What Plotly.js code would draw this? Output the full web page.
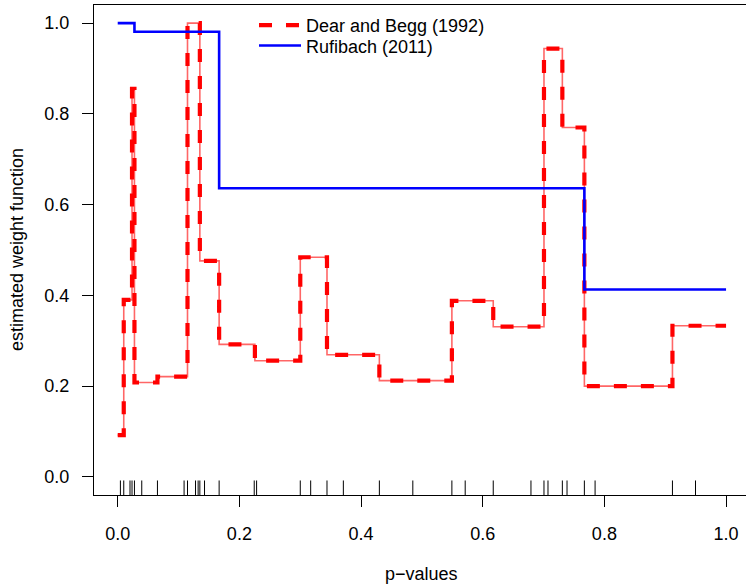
<!DOCTYPE html>
<html>
<head>
<meta charset="utf-8">
<script src="https://cdn.plot.ly/plotly-3.0.1.min.js"></script>
<style>html,body{margin:0;padding:0;background:#fff;}#chart{width:746px;height:584px;}</style>
</head>
<body>
<div id="chart"></div>
<script>
// observed p-values (rug)
var pValues = [0.0044, 0.0099, 0.0202, 0.0235, 0.0275, 0.0395, 0.0653, 0.1091, 0.1147, 0.1279,
  0.1322, 0.1350, 0.1427, 0.1667, 0.2244, 0.2283, 0.3001, 0.3172, 0.3440, 0.3709,
  0.4301, 0.4851, 0.5493, 0.5712, 0.6173, 0.6793, 0.7007, 0.7073, 0.7309, 0.7386,
  0.7671, 0.7847, 0.9119, 0.9498];

// Dear and Begg (1992) step function
var dbX = [0, 0.0099, 0.0235, 0.0275, 0.0653, 0.1147, 0.1350, 0.1667, 0.2255, 0.3001,
  0.3440, 0.4301, 0.5493, 0.6173, 0.7007, 0.7309, 0.7671, 0.9119, 1.0];
var dbY = [0.092, 0.390, 0.855, 0.208, 0.221, 1.000, 0.476, 0.292, 0.256, 0.484,
  0.269, 0.212, 0.388, 0.331, 0.944, 0.770, 0.200, 0.333, 0.333];

// Rufibach (2011) step function
var rufX = [0, 0.0275, 0.1667, 0.7671, 1.0];
var rufY = [1.000, 0.981, 0.636, 0.413, 0.413];

var xTicks = [0, 0.2, 0.4, 0.6, 0.8, 1.0];
var yTicks = [0, 0.2, 0.4, 0.6, 0.8, 1.0];
var seriesNames = ["Dear and Begg (1992)", "Rufibach (2011)"];
var xLabel = "p\u2212values";
var yLabel = "estimated weight function";

var yMin = -0.04, yMax = 1.04;
var rugLen = 0.032;

var rugX = [], rugY = [];
pValues.forEach(function (p) {
  rugX.push(p, p, null);
  rugY.push(yMin, yMin + rugLen, null);
});

var FONT = "Liberation Sans, Arial, Helvetica, sans-serif";

var traces = [
  {x: rugX, y: rugY, mode: "lines", line: {color: "#000", width: 1}, showlegend: false, hoverinfo: "skip"},
  {x: dbX, y: dbY, mode: "lines", line: {shape: "hv", color: "rgba(255,0,0,0.6)", width: 1.6}, showlegend: false},
  {x: dbX, y: dbY, mode: "lines", name: seriesNames[0], legend: "legend", line: {shape: "hv", color: "#ff0000", width: 4.2, dash: "13px,14px"}},
  {x: rufX, y: rufY, mode: "lines", name: seriesNames[1], legend: "legend2", line: {shape: "hv", color: "#0000ff", width: 2.6}}
];

var legendBase = {xanchor: "left", yanchor: "top", bgcolor: "rgba(0,0,0,0)", font: {size: 18}, itemwidth: 42, borderwidth: 0};

var layout = {
  width: 746, height: 584,
  margin: {l: 94, r: 0, t: 5, b: 89, pad: 0},
  paper_bgcolor: "#fff", plot_bgcolor: "#fff",
  font: {family: FONT, size: 18, color: "#000"},
  showlegend: true,
  legend: Object.assign({x: 0.2454, y: 0.9960}, legendBase),
  legend2: Object.assign({x: 0.2454, y: 0.9545}, legendBase),
  xaxis: {
    range: [-0.039, 1.0328], tickvals: xTicks, tickformat: ".1f",
    ticks: "outside", ticklen: 11, tickwidth: 1, tickcolor: "#000",
    showline: true, linecolor: "#000", linewidth: 1, mirror: true,
    showgrid: false, zeroline: false, ticklabelstandoff: 11
  },
  yaxis: {
    range: [yMin, yMax], tickvals: yTicks, tickformat: ".1f",
    ticks: "outside", ticklen: 11, tickwidth: 1, tickcolor: "#000",
    showline: true, linecolor: "#000", linewidth: 1,
    showgrid: false, zeroline: false, ticklabelstandoff: 9
  },
  annotations: [
    {text: xLabel, xref: "x", yref: "paper", x: 0.5, y: -0.162, xanchor: "center", yanchor: "middle", showarrow: false, font: {size: 18}},
    {text: yLabel, xref: "paper", yref: "paper", x: -0.118, y: 0.5, xanchor: "center", yanchor: "middle", textangle: -90, showarrow: false, font: {size: 18}}
  ]
};

Plotly.newPlot("chart", traces, layout, {displayModeBar: false, staticPlot: true});
</script>
</body>
</html>
